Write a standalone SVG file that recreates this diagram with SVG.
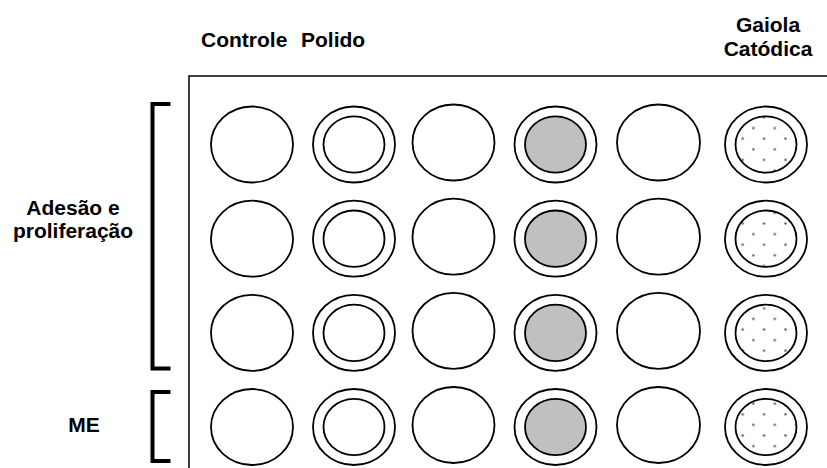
<svg xmlns="http://www.w3.org/2000/svg" width="827" height="468" viewBox="0 0 827 468">
<style>
  .lbl { font-family: "Liberation Sans", Arial, sans-serif; font-weight: bold; font-size: 21px; fill: #000; }
  .w { fill: #fff; stroke: #000; stroke-width: 1.8; }
  .g { fill: #c0c0c0; stroke: #000; stroke-width: 1.8; }
  .d { fill: url(#dots); stroke: #000; stroke-width: 1.8; }
  .br { fill: none; stroke: #000; stroke-width: 4; stroke-linejoin: miter; }
</style>
<defs>
  <pattern id="dots" patternUnits="userSpaceOnUse" x="9.75" y="6.2" width="21.4" height="21.2">
    <rect width="21.4" height="21.2" fill="#fff"/>
    <circle cx="5.35" cy="5.3" r="1.3" fill="#6a6a6a"/>
    <circle cx="16.05" cy="15.9" r="1.3" fill="#6a6a6a"/>
  </pattern>
</defs>
<rect width="827" height="468" fill="#fff"/>

<g id="labels">
  <text class="lbl" xml:space="preserve"><tspan x="201" y="47">Controle</tspan><tspan x="301" y="47">Polido</tspan></text>
  <text class="lbl" text-anchor="middle"><tspan x="768" y="31.5">Gaiola</tspan><tspan x="768" y="55.7">Catódica</tspan></text>
  <text class="lbl" text-anchor="middle"><tspan x="73" y="215">Adesão e</tspan><tspan x="73" y="237.5">proliferação</tspan></text>
  <text class="lbl" text-anchor="middle" x="84" y="432">ME</text>
</g>

<g id="plate">
  <path d="M189,470 V76 H830" fill="none" stroke="#000" stroke-width="1.5"/>
</g>

<g id="brackets">
  <path class="br" d="M170.5,104 H152.5 V368.5 H170.5"/>
  <path class="br" d="M170.5,392 H152.5 V461 H170.5"/>
</g>

<g id="connectors"/>

<!-- Row 1 -->
<g id="well-r1-c1"><ellipse class="w" cx="252" cy="144.5" rx="41" ry="38"/></g>
<g id="well-r1-c2"><ellipse class="w" cx="354" cy="144.5" rx="41" ry="38"/><ellipse class="w" cx="354" cy="144.5" rx="30.5" ry="28.2"/></g>
<g id="well-r1-c3"><ellipse class="w" cx="453.5" cy="142.5" rx="41" ry="38"/></g>
<g id="well-r1-c4"><ellipse class="w" cx="555.5" cy="144.5" rx="41" ry="38"/><ellipse class="g" cx="555.5" cy="144.5" rx="30.5" ry="28.2"/></g>
<g id="well-r1-c5"><ellipse class="w" cx="658.5" cy="142.5" rx="41.5" ry="38"/></g>
<g id="well-r1-c6"><ellipse class="w" cx="766" cy="144.5" rx="41" ry="38"/><ellipse class="d" cx="766" cy="144.5" rx="30.5" ry="28.2"/></g>

<!-- Row 2 -->
<g id="well-r2-c1"><ellipse class="w" cx="252" cy="238.7" rx="41" ry="38"/></g>
<g id="well-r2-c2"><ellipse class="w" cx="354" cy="238.7" rx="41" ry="38"/><ellipse class="w" cx="354" cy="238.7" rx="30.5" ry="28.2"/></g>
<g id="well-r2-c3"><ellipse class="w" cx="453.5" cy="236.7" rx="41" ry="38"/></g>
<g id="well-r2-c4"><ellipse class="w" cx="555.5" cy="238.7" rx="41" ry="38"/><ellipse class="g" cx="555.5" cy="238.7" rx="30.5" ry="28.2"/></g>
<g id="well-r2-c5"><ellipse class="w" cx="658.5" cy="236.7" rx="41.5" ry="38"/></g>
<g id="well-r2-c6"><ellipse class="w" cx="766" cy="238.7" rx="41" ry="38"/><ellipse class="d" cx="766" cy="238.7" rx="30.5" ry="28.2"/></g>

<!-- Row 3 -->
<g id="well-r3-c1"><ellipse class="w" cx="252" cy="332.9" rx="41" ry="38"/></g>
<g id="well-r3-c2"><ellipse class="w" cx="354" cy="332.9" rx="41" ry="38"/><ellipse class="w" cx="354" cy="332.9" rx="30.5" ry="28.2"/></g>
<g id="well-r3-c3"><ellipse class="w" cx="453.5" cy="330.9" rx="41" ry="38"/></g>
<g id="well-r3-c4"><ellipse class="w" cx="555.5" cy="332.9" rx="41" ry="38"/><ellipse class="g" cx="555.5" cy="332.9" rx="30.5" ry="28.2"/></g>
<g id="well-r3-c5"><ellipse class="w" cx="658.5" cy="330.9" rx="41.5" ry="38"/></g>
<g id="well-r3-c6"><ellipse class="w" cx="766" cy="332.9" rx="41" ry="38"/><ellipse class="d" cx="766" cy="332.9" rx="30.5" ry="28.2"/></g>

<!-- Row 4 -->
<g id="well-r4-c1"><ellipse class="w" cx="252" cy="427" rx="41" ry="38"/></g>
<g id="well-r4-c2"><ellipse class="w" cx="354" cy="427" rx="41" ry="38"/><ellipse class="w" cx="354" cy="427" rx="30.5" ry="28.2"/></g>
<g id="well-r4-c3"><ellipse class="w" cx="453.5" cy="425" rx="41" ry="38"/></g>
<g id="well-r4-c4"><ellipse class="w" cx="555.5" cy="427" rx="41" ry="38"/><ellipse class="g" cx="555.5" cy="427" rx="30.5" ry="28.2"/></g>
<g id="well-r4-c5"><ellipse class="w" cx="658.5" cy="425" rx="41.5" ry="38"/></g>
<g id="well-r4-c6"><ellipse class="w" cx="766" cy="427" rx="41" ry="38"/><ellipse class="d" cx="766" cy="427" rx="30.5" ry="28.2"/></g>
</svg>
